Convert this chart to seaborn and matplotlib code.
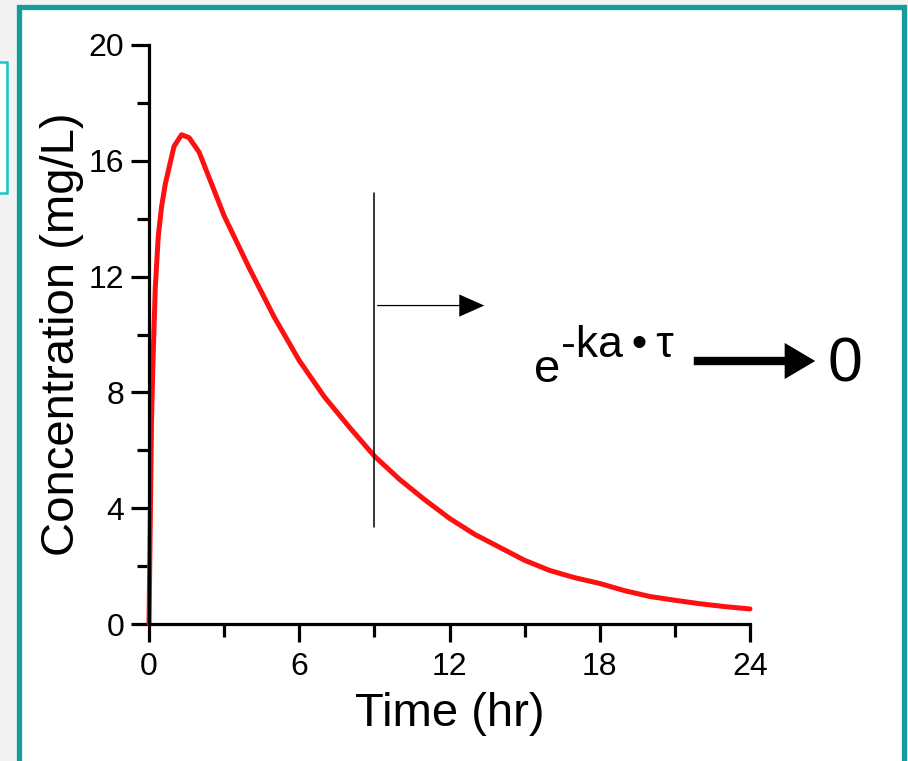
import matplotlib.pyplot as plt
import matplotlib.patches as mpatches
import seaborn as sns
import pandas as pd

# Concentration-time curve
time_hr = [0, 0.1, 0.15, 0.25, 0.37, 0.5, 0.65, 1.0, 1.3, 1.6, 2, 3, 4, 5, 6, 7, 8,
           9, 10, 11, 12, 13, 14, 15, 16, 17, 18, 19, 20, 21, 22, 23, 24]
conc_mg_l = [0, 7.0, 8.8, 11.6, 13.4, 14.4, 15.2, 16.5, 16.9, 16.8, 16.3, 14.1,
             12.3, 10.6, 9.1, 7.85, 6.8, 5.8, 5.0, 4.3, 3.65, 3.1, 2.65, 2.2,
             1.85, 1.6, 1.4, 1.15, 0.95, 0.82, 0.7, 0.6, 0.52]

x_ticks = [0, 6, 12, 18, 24]
x_minor = [3, 9, 15, 21]
y_ticks = [0, 4, 8, 12, 16, 20]
y_minor = [2, 6, 10, 14, 18]

# vertical marker at the dosing interval and the small arrow off it
tau_x = 9
tau_span = (3.35, 14.9)
arrow_y = 11.0
arrow_end_x = 13.5

df = pd.DataFrame({"Time": time_hr, "Conc": conc_mg_l})

sns.set_style("ticks")
plt.rcParams['font.family'] = ['Liberation Sans', 'DejaVu Sans']
plt.rcParams['text.color'] = "black"
plt.rcParams['axes.labelcolor'] = "black"
plt.rcParams['xtick.color'] = "black"
plt.rcParams['ytick.color'] = "black"

W, H = 908, 761
fig = plt.figure(figsize=(W / 100, H / 100), dpi=100, facecolor="#f3f3f3")

# slide frame (behind the axes)
fig.patches.append(mpatches.Rectangle((18.5 / W, -0.05), 885 / W, 1.05 - 7.5 / H,
                                      transform=fig.transFigure, facecolor="white",
                                      edgecolor="#169c9c", linewidth=3.8, zorder=-2))
fig.patches.append(mpatches.Rectangle((-0.05, 1 - 193 / H), 0.05 + 7 / W, 131 / H,
                                      transform=fig.transFigure, facecolor="white",
                                      edgecolor="#12c8c8", linewidth=1.8, zorder=-2))

ax = fig.add_axes([149 / W, 1 - 624 / H, (750 - 149) / W, (624 - 45) / H])
ax.set_facecolor("none")

sns.lineplot(data=df, x="Time", y="Conc", ax=ax, color="#ff1010",
             linewidth=3.6, clip_on=False)

ax.set_xlim(0, 24)
ax.set_ylim(0, 20)
ax.set_xticks(x_ticks)
ax.set_yticks(y_ticks)
ax.set_xticks(x_minor, minor=True)
ax.set_yticks(y_minor, minor=True)
ax.tick_params(which="major", direction="out", length=13, width=2.3, labelsize=23)
ax.tick_params(which="minor", direction="out", length=9, width=2.3)
ax.tick_params(axis="x", which="major", pad=7)
ax.tick_params(axis="y", which="major", pad=5)
for side in ["top", "right"]:
    ax.spines[side].set_visible(False)
for side in ["left", "bottom"]:
    ax.spines[side].set_linewidth(2.3)
    ax.spines[side].set_color("black")

ax.set_xlabel("Time (hr)", fontsize=34, labelpad=7)
ax.set_ylabel("Concentration (mg/L)", fontsize=34, labelpad=3)

# dosing interval marker
ax.plot([tau_x, tau_x], tau_span, color="black", linewidth=1.1)
ax.add_patch(mpatches.FancyArrowPatch(
    (tau_x, arrow_y), (arrow_end_x, arrow_y),
    arrowstyle="simple,head_length=1.8,head_width=1.6,tail_width=0.09",
    mutation_scale=10, color="black", linewidth=0, clip_on=False))

# e^{-ka·tau} -> 0
fig.text(534 / W, 1 - 382 / H, "e", fontsize=34, ha="left", va="baseline")
fig.text(561 / W, 1 - 357 / H, "-ka\u2009\u2022\u2009\u03c4", fontsize=32,
         ha="left", va="baseline")
fig.patches.append(mpatches.FancyArrowPatch(
    (691 / W, 1 - 361 / H), (818 / W, 1 - 361 / H), transform=fig.transFigure,
    arrowstyle="simple,head_length=2.2,head_width=2.6,tail_width=0.6",
    mutation_scale=10, color="black", linewidth=0))
fig.text(828 / W, 1 - 381 / H, "0", fontsize=45, ha="left", va="baseline")

fig.savefig("out.png", dpi=100, facecolor=fig.get_facecolor())
